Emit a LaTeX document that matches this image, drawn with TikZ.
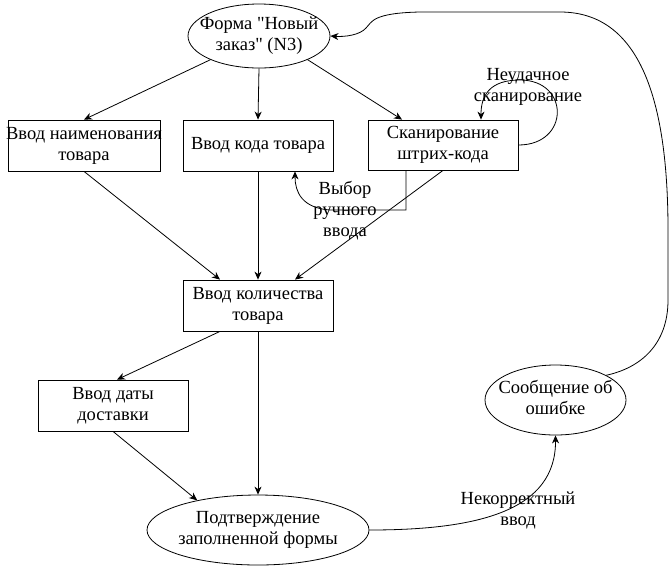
\documentclass[tikz,border=0pt]{standalone}
\usepackage{fontspec}
\setmainfont{Liberation Serif}
\usetikzlibrary{arrows.meta,shapes.geometric}
\newcommand{\tl}[1]{\makebox[0pt]{\begin{tabular}{@{}c@{}}#1\end{tabular}}}
\begin{document}
\begin{tikzpicture}[x=1pt,y=-1pt,
  every node/.style={font=\fontsize{18.5}{21}\selectfont, inner sep=0pt},
  box/.style={draw, rectangle, minimum width=150pt, minimum height=51pt},
  ell/.style={draw, ellipse},
  lbl/.style={},
  arr/.style={-{Stealth[length=8pt,width=7pt,inset=2.5pt]}, line width=0.8pt},
  line width=0.8pt]
\useasboundingbox (0,0) rectangle (669,566);
\node[ell, minimum width=142pt, minimum height=64pt] (form) at (259,36) {\tl{Форма \textquotedbl Новый\\заказ\textquotedbl{} (N3)}};
\node[box, minimum width=152pt] (name) at (84,145.5) {\tl{Ввод наименования\\товара}};
\node[box] (code) at (258,145.5) {\tl{Ввод кода товара}};
\node[box, minimum height=50pt] (scan) at (443,145) {\tl{Сканирование\\штрих-кода}};
\node[box] (qty) at (258,305.5) {\tl{Ввод количества\\товара}};
\node[box] (date) at (113,405.5) {\tl{Ввод даты\\доставки}};
\node[ell, minimum width=222pt, minimum height=70pt] (conf) at (258,530) {\tl{Подтверждение\\заполненной формы}};
\node[ell, minimum width=141pt, minimum height=70pt] (err) at (555.5,400) {\tl{Сообщение об\\ошибке}};

\node[lbl] (l1) at (528,87) {\tl{Неудачное\\сканирование}};
\node[lbl] (l2) at (345,211) {\tl{Выбор\\ручного\\ввода}};
\node[lbl] (l3) at (518,511) {\tl{Некорректный\\ввод}};

\draw[arr] (form.206) -- (name.north);
\draw[arr] (form.south) -- (code.north);
\draw[arr] (form.334) -- ([xshift=-41pt]scan.north);
\draw[arr] (name.south) -- ([xshift=-38pt]qty.north);
\draw[arr] (code.south) -- (qty.north);
\draw[arr] (scan.south) -- ([xshift=37pt]qty.north);
\draw[arr] ([xshift=-38pt]qty.south) -- ([xshift=4pt]date.north);
\draw[arr] (qty.south) -- (conf.north);
\draw[arr] (date.south) -- (conf.154);
\draw[arr] ([yshift=0pt]scan.east) .. controls (570,145) and (570,80) .. (520,80) .. controls (490,80) and (481,95) .. ([xshift=38pt]scan.north);
\draw[arr] ([xshift=-37pt]scan.south) -- (406,210) -- (330,210) .. controls (302,208) and (295,192) .. ([xshift=37pt]code.south);
\draw[arr] (conf.east) .. controls (480,530) and (556,510) .. (err.south);
\draw[arr] (err.26) .. controls (640,368) and (668,345) .. (668,300) -- (668,230) .. controls (668,100) and (640,12) .. (560,12) -- (420,12) .. controls (372,13) and (372,22) .. (366,28) .. controls (360,35) and (345,37) .. (form.east);
\end{tikzpicture}
\end{document}
